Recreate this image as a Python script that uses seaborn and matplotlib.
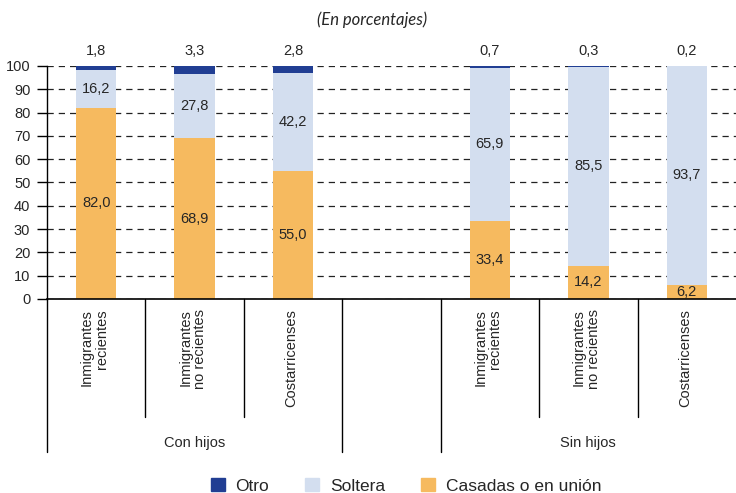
import pandas as pd
import seaborn as sns
import matplotlib.pyplot as plt
import matplotlib.transforms as mtransforms
from matplotlib.patches import Patch

# data
grupos = ["Con hijos", "Sin hijos"]
categorias = ["Inmigrantes\nrecientes", "Inmigrantes\nno recientes", "Costarricenses"]
casadas = [82.0, 68.9, 55.0, 33.4, 14.2, 6.2]
soltera = [16.2, 27.8, 42.2, 65.9, 85.5, 93.7]
otro = [1.8, 3.3, 2.8, 0.7, 0.3, 0.2]

# slots: 3 bars, one empty slot, 3 bars
slots = ["c0", "c1", "c2", "gap", "s0", "s1", "s2"]
bar_slots = ["c0", "c1", "c2", "s0", "s1", "s2"]

df = pd.DataFrame({"slot": bar_slots, "casadas": casadas, "soltera": soltera, "otro": otro})
df["cum_sol"] = df.casadas + df.soltera
df["cum_otro"] = df.cum_sol + df.otro

c_otro = "#213E93"
c_sol = "#D3DEEF"
c_cas = "#F6BA5F"

sns.set_style("ticks")
plt.rcParams["font.family"] = ["Liberation Sans", "DejaVu Sans"]

fig = plt.figure(figsize=(7.36, 4.93), dpi=100)
ax = fig.add_axes([47 / 736, 1 - 299 / 493, 1 - 47 / 736, (299 - 66) / 493])

ax.yaxis.grid(True, linestyle=(0, (5, 4)), color="#222222", lw=0.9)
ax.set_axisbelow(True)

for col, c in [("cum_otro", c_otro), ("cum_sol", c_sol), ("casadas", c_cas)]:
    sns.barplot(data=df, x="slot", y=col, order=slots, color=c, width=0.41,
                saturation=1, errorbar=None, linewidth=0, ax=ax)

ax.set_xlim(-0.5, 6.5)
ax.set_ylim(0, 100)
ax.set_yticks(range(0, 101, 10))
ax.tick_params(axis="y", labelsize=10.5, length=7, width=1, color="black", pad=5)
ax.set_xticks([])
ax.set_xlabel("")
ax.set_ylabel("")
for s in ["top", "right"]:
    ax.spines[s].set_visible(False)
ax.spines["left"].set_color("black")
ax.spines["bottom"].set_color("black")
ax.spines["left"].set_linewidth(1)
ax.spines["bottom"].set_linewidth(1.2)

fmt = lambda v: f"{v:.1f}".replace(".", ",")
xpos = [slots.index(s) for s in bar_slots]
for i, x in enumerate(xpos):
    ax.text(x, casadas[i] / 2, fmt(casadas[i]), ha="center", va="center", fontsize=10.5)
    ax.text(x, casadas[i] + soltera[i] / 2, fmt(soltera[i]), ha="center", va="center", fontsize=10.5)
    ax.text(x, 103.5, fmt(otro[i]), ha="center", va="bottom", fontsize=10.5, clip_on=False)

# category labels and separators below the axis
trans = mtransforms.blended_transform_factory(ax.transData, fig.transFigure)
y_axis = 1 - 299 / 493
for i, x in enumerate(xpos):
    ax.text(x - 0.02, 1 - 309 / 493, categorias[i % 3], rotation=90, ha="center", va="top",
            multialignment="right", fontsize=10.5, linespacing=1.05, transform=trans)
for xb in [0.5, 1.5, 4.5, 5.5]:
    ax.plot([xb, xb], [y_axis, 1 - 417 / 493], color="black", lw=1, transform=trans, clip_on=False)
for xb in [-0.5, 2.5, 3.5]:
    ax.plot([xb, xb], [y_axis, 1 - 452 / 493], color="black", lw=1, transform=trans, clip_on=False)
ax.text(1, 1 - 443 / 493, grupos[0], ha="center", va="center", fontsize=10.5, transform=trans)
ax.text(5, 1 - 443 / 493, grupos[1], ha="center", va="center", fontsize=10.5, transform=trans)

fig.text(372 / 736, 1 - 20 / 493, "(En porcentajes)", ha="center", va="center",
         fontsize=12, style="italic", family=["Lato", "DejaVu Sans"])

handles = [Patch(color=c_otro), Patch(color=c_sol), Patch(color=c_cas)]
fig.legend(handles, ["Otro", "Soltera", "Casadas o en unión"], loc="center",
           bbox_to_anchor=(406 / 736, 1 - 486 / 493), ncol=3, frameon=False,
           fontsize=12.5, handlelength=0.8, handleheight=0.8, handletextpad=0.6,
           columnspacing=2.1)

fig.savefig("out.png", dpi=100)
